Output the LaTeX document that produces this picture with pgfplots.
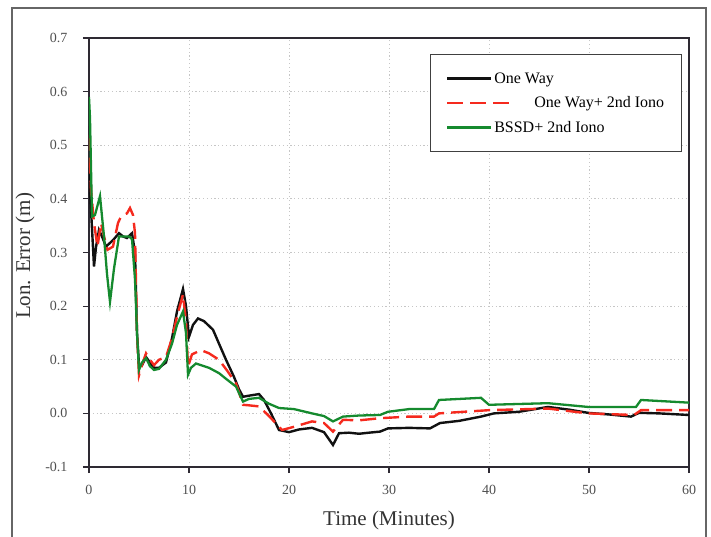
\documentclass[border=0pt]{standalone}
\usepackage{fontspec}
\setmainfont{Liberation Serif}
\usepackage{pgfplots}
\pgfplotsset{compat=1.18}

\definecolor{axline}{HTML}{2E2A33}
\definecolor{ticktxt}{HTML}{505050}
\definecolor{oneway}{HTML}{111111}
\definecolor{iono}{HTML}{F52A1E}
\definecolor{bssd}{HTML}{158A2E}

\begin{document}
\begin{tikzpicture}
\begin{axis}[
  scale only axis,
  width=600pt, height=429pt,
  at={(0pt,0pt)}, anchor=south west,
  xmin=0, xmax=60, ymin=-0.1, ymax=0.7,
  xtick={0,10,...,60},
  ytick={-0.1,0,0.1,0.2,0.3,0.4,0.5,0.6,0.7},
  xtick pos=bottom, ytick pos=left,
  tick align=outside,
  major tick length=6pt,
  every tick/.style={axline, line width=1.2pt},
  axis line style={axline, line width=2pt},
  grid=major,
  major grid style={gray!45, line width=0.8pt, dash pattern=on 1.2pt off 2.6pt},
  ticklabel style={font=\fontsize{14}{16}\selectfont, text=ticktxt},
  /pgf/number format/assume math mode=true,
  yticklabel style={xshift=-12pt, /pgf/number format/.cd, fixed, fixed zerofill, precision=1},
  xticklabel style={yshift=-9pt, /pgf/number format/.cd, fixed, precision=0},
  xlabel={Time (Minutes)},
  ylabel={Lon. Error (m)},
  label style={font=\fontsize{21}{25}\selectfont, text=black!80},
  xlabel style={at={(axis description cs:0.5,-0.1235)}, anchor=center},
  ylabel style={at={(axis description cs:-0.1067,0.492)}, anchor=center},
  legend style={at={(0.988,0.963)}, anchor=north east,
    draw=black!75, line width=1.2pt, fill=white,
    font=\fontsize{16}{19}\selectfont,
    inner xsep=15pt, inner ysep=16pt, row sep=8pt},
  legend cell align=left,
  legend image code/.code={\path (0pt,0pt) -- (44pt,0pt); \draw[#1] (0pt,0pt) -- (38pt,0pt);},
]
\addplot[oneway, line width=2.4pt] coordinates {
(0,0.45) (0.2,0.38) (0.5,0.274) (0.7,0.31) (1.0,0.342) (1.3,0.33) (1.7,0.311)
(2.4,0.323) (3.0,0.336) (3.4,0.33) (3.8,0.327) (4.3,0.336) (4.6,0.30) (4.8,0.15)
(5.0,0.09) (5.3,0.09) (5.7,0.105) (6.1,0.095) (6.5,0.085) (7.0,0.085) (7.7,0.095)
(8.3,0.14) (8.8,0.19) (9.4,0.232) (9.7,0.2) (10.0,0.143) (10.4,0.165) (10.9,0.177)
(11.5,0.172) (12.4,0.156) (13.0,0.13) (13.7,0.10) (14.5,0.068) (15.0,0.045)
(15.4,0.031) (16.0,0.033) (17.0,0.036) (17.5,0.025) (18.2,0.0) (19.0,-0.031)
(20.0,-0.035) (21.0,-0.03) (22.3,-0.027) (23.5,-0.035) (24.4,-0.059) (25.0,-0.037)
(26.0,-0.036) (27.0,-0.038) (28.0,-0.036) (29.1,-0.034) (29.9,-0.028) (32,-0.027)
(34.1,-0.028) (35.1,-0.018) (37,-0.014) (39.2,-0.006) (40.5,0.0) (43,0.003)
(45.9,0.012) (48,0.007) (49.9,0.001) (52,-0.002) (54.2,-0.006) (55,0.001)
(57,0.0) (60,-0.003)
};
\addlegendentry{One Way}
\addplot[iono, line width=2.4pt, dash pattern=on 16pt off 7pt,
  legend image code/.code={\path (0pt,0pt) -- (44pt,0pt);
    \draw[iono, line width=2.4pt, dash pattern=on 16pt off 7pt, overlay] (0pt,0pt) -- (62pt,0pt);}] coordinates {
(0,0.52) (0.2,0.417) (0.5,0.355) (0.85,0.311) (1.2,0.355) (1.5,0.33) (1.85,0.305)
(2.4,0.311) (2.9,0.355) (3.2,0.367) (3.8,0.373) (4.1,0.383) (4.4,0.37) (4.6,0.336)
(4.8,0.15) (5.0,0.071) (5.3,0.09) (5.7,0.112) (6.1,0.1) (6.5,0.09) (7.0,0.1)
(7.7,0.105) (8.3,0.14) (8.8,0.18) (9.4,0.222) (9.7,0.17) (9.9,0.087) (10.3,0.11)
(11.2,0.118) (12.0,0.112) (13.0,0.10) (13.8,0.08) (14.7,0.056) (15.4,0.016)
(16,0.015) (17.0,0.013) (18,-0.005) (19.3,-0.031) (20.5,-0.025) (22.3,-0.015)
(23.5,-0.018) (24.4,-0.034) (25.4,-0.012) (27,-0.013) (29.1,-0.009) (32,-0.006)
(34.5,-0.006) (35,0.0) (40,0.006) (45.9,0.009) (49.9,0.0) (54.5,-0.003)
(55.2,0.006) (60,0.006)
};
\addlegendentry{\hspace{40pt}One Way+ 2nd Iono}
\addplot[bssd, line width=2.3pt] coordinates {
(0,0.59) (0.1,0.55) (0.3,0.367) (0.6,0.37) (1.1,0.405) (1.5,0.33) (1.8,0.26)
(2.1,0.208) (2.5,0.27) (3.0,0.33) (4.0,0.33) (4.3,0.325) (4.6,0.25) (4.8,0.15)
(5.0,0.081) (5.3,0.095) (5.7,0.103) (6.1,0.088) (6.5,0.081) (7.0,0.083) (7.7,0.1)
(8.3,0.13) (8.8,0.165) (9.4,0.19) (9.7,0.15) (9.9,0.072) (10.2,0.085) (10.7,0.093)
(12,0.085) (13.0,0.075) (13.8,0.063) (14.7,0.05) (15.4,0.022) (16,0.027)
(17.0,0.029) (18,0.018) (19,0.01) (20.5,0.008) (22.3,0.0) (23.5,-0.005)
(24.4,-0.015) (25.4,-0.006) (27,-0.004) (29.1,-0.003) (29.9,0.003) (32,0.008)
(34.5,0.008) (35,0.025) (39.2,0.029) (40,0.016) (45.9,0.019) (49.9,0.012)
(54.7,0.012) (55.2,0.025) (60,0.02)
};
\addlegendentry{BSSD+ 2nd Iono}
\end{axis}
\draw[black!60, line width=1.5pt] (-77pt,-90pt) -- (-77pt,459pt) -- (617pt,459pt) -- (617pt,-90pt);
\pgfresetboundingbox
\path (-89pt,-69pt) rectangle (622pt,467pt);
\end{tikzpicture}
\end{document}
